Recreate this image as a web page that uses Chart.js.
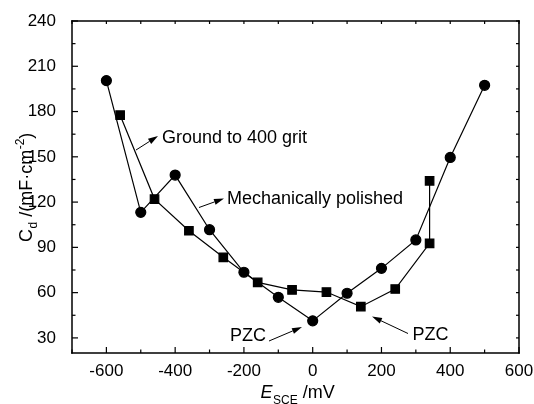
<!DOCTYPE html>
<html>
<head>
<meta charset="utf-8">
<script src="https://cdn.jsdelivr.net/npm/chart.js@4/dist/chart.umd.min.js"></script>
<style>
  html, body { margin: 0; padding: 0; background: #fff; }
  #wrap { width: 534px; height: 404px; }
</style>
</head>
<body>
<div id="wrap"><canvas id="c" width="534" height="404"></canvas></div>
<script>
// Mechanically polished (circles)
const polishedE = [-600, -500, -400, -300, -200, -100, 0, 100, 200, 300, 400, 500];
const polishedC = [200.5, 113.2, 137.9, 101.7, 73.5, 56.9, 41.3, 59.6, 76.1, 94.9, 149.6, 197.4];
// Ground to 400 grit (squares)
const groundE = [-560, -460, -360, -260, -160, -60, 40, 140, 240, 340, 340];
const groundC = [177.6, 122.0, 101.0, 83.4, 66.8, 61.8, 60.4, 50.7, 62.4, 92.7, 134.1];

const xTicks = [-600, -400, -200, 0, 200, 400, 600];
const xMinorTicks = [-700, -500, -300, -100, 100, 300, 500];
const yTicks = [30, 60, 90, 120, 150, 180, 210, 240];
const yMinorTicks = [45, 75, 105, 135, 165, 195, 225];

const FONT = '"Liberation Sans", Arial, Helvetica, sans-serif';

function pts(xs, ys) { return xs.map((x, i) => ({ x: x, y: ys[i] })); }

function arrow(ctx, x1, y1, x2, y2) {
  ctx.save();
  ctx.strokeStyle = '#000';
  ctx.fillStyle = '#000';
  ctx.lineWidth = 1;
  const ang = Math.atan2(y2 - y1, x2 - x1);
  const hl = 10, hw = 3;
  const bx = x2 - hl * Math.cos(ang), by = y2 - hl * Math.sin(ang);
  ctx.beginPath();
  ctx.moveTo(x1, y1);
  ctx.lineTo(bx, by);
  ctx.stroke();
  ctx.beginPath();
  ctx.moveTo(x2, y2);
  ctx.lineTo(bx + hw * Math.sin(ang), by - hw * Math.cos(ang));
  ctx.lineTo(bx - hw * Math.sin(ang), by + hw * Math.cos(ang));
  ctx.closePath();
  ctx.fill();
  ctx.restore();
}

// Frame and inward ticks, positioned with the chart's own scales
const axesPlugin = {
  id: 'axesFrame',
  afterDatasetsDraw(chart) {
    const ctx = chart.ctx;
    const a = chart.chartArea;
    const xs = chart.scales.x, ys = chart.scales.y;
    ctx.save();
    ctx.fillStyle = '#000';
    const L = Math.round(a.left), R = Math.round(a.right), T = Math.round(a.top), B = Math.round(a.bottom);
    const w = 1.5;
    ctx.fillRect(L - w / 2, T - w / 2, R - L + w, w);
    ctx.fillRect(L - w / 2, B - w / 2, R - L + w, w);
    ctx.fillRect(L - w / 2, T - w / 2, w, B - T + w);
    ctx.fillRect(R - w / 2, T - w / 2, w, B - T + w);
    const tw = 1.2;
    xTicks.forEach(v => {
      const p = xs.getPixelForValue(v);
      ctx.fillRect(p - tw / 2, B - 6, tw, 6);
      ctx.fillRect(p - tw / 2, T, tw, 3);
    });
    xMinorTicks.forEach(v => {
      const p = xs.getPixelForValue(v);
      ctx.fillRect(p - tw / 2, B - 3.5, tw, 3.5);
      ctx.fillRect(p - tw / 2, T, tw, 3);
    });
    yTicks.forEach(v => {
      const p = ys.getPixelForValue(v);
      ctx.fillRect(L, p - tw / 2, 6, tw);
      ctx.fillRect(R - 3, p - tw / 2, 3, tw);
    });
    yMinorTicks.forEach(v => {
      const p = ys.getPixelForValue(v);
      ctx.fillRect(L, p - tw / 2, 3.5, tw);
      ctx.fillRect(R - 3, p - tw / 2, 3, tw);
    });
    ctx.restore();
  }
};

// Annotations and axis titles
const textPlugin = {
  id: 'textLabels',
  afterDraw(chart) {
    const ctx = chart.ctx;
    ctx.save();
    ctx.fillStyle = '#000';
    ctx.textBaseline = 'alphabetic';
    ctx.textAlign = 'left';
    ctx.font = '18px ' + FONT;
    ctx.fillText('Ground to 400 grit', 162, 142.7);
    ctx.fillText('Mechanically polished', 227, 203.5);
    ctx.fillText('PZC', 230, 341);
    ctx.fillText('PZC', 412.5, 339.5);
    arrow(ctx, 136, 150, 158, 136);
    arrow(ctx, 199, 207.5, 224, 198.5);
    arrow(ctx, 269, 341, 302, 327);
    arrow(ctx, 408, 333.5, 372, 316.5);

    // X axis title: E_SCE /mV
    ctx.fillStyle = '#000';
    ctx.font = 'italic 18px ' + FONT;
    let x = 260.5;
    const base = 398.3;
    ctx.fillText('E', x, base);
    x += ctx.measureText('E').width;
    ctx.font = '12px ' + FONT;
    ctx.fillText('SCE', x + 0.5, base + 6);
    x += ctx.measureText('SCE').width + 0.5;
    ctx.font = '18px ' + FONT;
    ctx.fillText(' /mV', x, base);

    // Y axis title: C_d /(mF·cm^-2)
    ctx.save();
    ctx.translate(32, 242);
    ctx.rotate(-Math.PI / 2);
    let t = 0;
    ctx.font = '18px ' + FONT;
    ctx.fillText('C', t, 0);
    t += ctx.measureText('C').width;
    ctx.font = '12px ' + FONT;
    ctx.fillText('d', t + 0.5, 5);
    t += ctx.measureText('d').width + 0.5;
    ctx.font = '18px ' + FONT;
    ctx.fillText(' /(mF\u00B7cm', t, 0);
    t += ctx.measureText(' /(mF\u00B7cm').width;
    ctx.font = '12px ' + FONT;
    ctx.fillText('-2', t + 0.5, -8);
    t += ctx.measureText('-2').width + 0.5;
    ctx.font = '18px ' + FONT;
    ctx.fillText(')', t, 0);
    ctx.restore();

    ctx.restore();
  }
};

new Chart(document.getElementById('c'), {
  type: 'scatter',
  data: {
    datasets: [
      {
        label: 'Mechanically polished',
        data: pts(polishedE, polishedC),
        showLine: true,
        borderColor: '#000',
        backgroundColor: '#000',
        borderWidth: 1.2,
        pointStyle: 'circle',
        pointRadius: 5,
        pointHoverRadius: 5
      },
      {
        label: 'Ground to 400 grit',
        data: pts(groundE, groundC),
        showLine: true,
        borderColor: '#000',
        backgroundColor: '#000',
        borderWidth: 1.2,
        pointStyle: 'rect',
        pointRadius: 6,
        pointHoverRadius: 6
      }
    ]
  },
  options: {
    responsive: false,
    animation: false,
    devicePixelRatio: 1,
    layout: { padding: { top: 21, right: 15, left: 0, bottom: 0 } },
    plugins: { legend: { display: false }, tooltip: { enabled: false } },
    scales: {
      x: {
        type: 'linear',
        min: -700, max: 600,
        grid: { display: false },
        border: { display: false },
        afterBuildTicks(s) { s.ticks = xTicks.map(v => ({ value: v })); },
        afterFit(s) { s.height = 51; s.paddingLeft = 0; s.paddingRight = 0; },
        ticks: { color: '#000', font: { family: FONT, size: 17 }, padding: 0, maxRotation: 0, autoSkip: false }
      },
      y: {
        type: 'linear',
        min: 20, max: 240,
        grid: { display: false },
        border: { display: false },
        afterBuildTicks(s) { s.ticks = yTicks.map(v => ({ value: v })); },
        afterFit(s) { s.width = 72; s.paddingTop = 0; s.paddingBottom = 0; },
        ticks: { color: '#000', font: { family: FONT, size: 17 }, padding: 8, autoSkip: false }
      }
    }
  },
  plugins: [axesPlugin, textPlugin]
});
</script>
</body>
</html>
